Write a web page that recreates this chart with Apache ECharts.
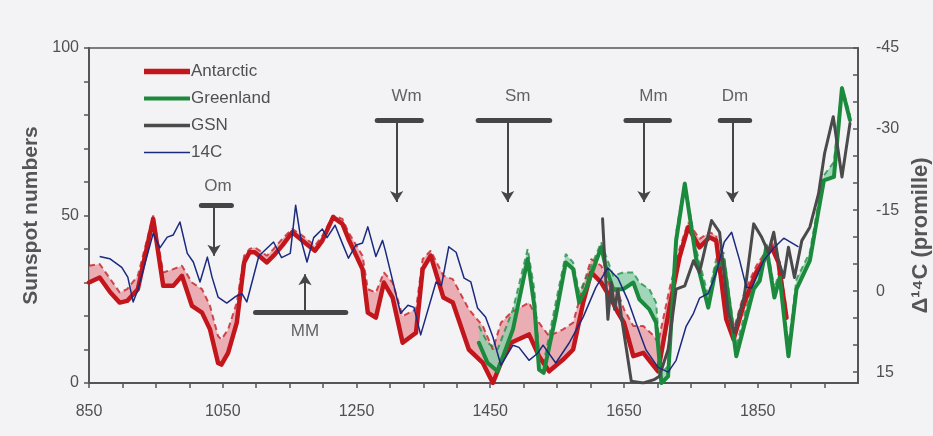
<!DOCTYPE html>
<html>
<head>
<meta charset="utf-8">
<script src="https://cdn.jsdelivr.net/npm/echarts@6/dist/echarts.min.js"></script>
<style>
  html, body { margin: 0; padding: 0; background: #f3f3f6; }
  #chart { width: 933px; height: 436px; }
</style>
</head>
<body>
<div id="chart"></div>
<script>
// Antarctic reconstruction: solid line (lower) and dashed upper edge of the band
const antarcticYears = [850, 866, 882, 896, 907, 923, 946, 961, 976, 989, 1004, 1019, 1031, 1043, 1048, 1058, 1071, 1082, 1090, 1098, 1116, 1126, 1139, 1154, 1169, 1188, 1199, 1215, 1229, 1238, 1259, 1267, 1279, 1291, 1304, 1319, 1339, 1349, 1361, 1380, 1394, 1418, 1439, 1454, 1466, 1481, 1508, 1523, 1538, 1559, 1574, 1589, 1601, 1616, 1631, 1641, 1650, 1664, 1679, 1695, 1701, 1718, 1733, 1746, 1763, 1778, 1788, 1803, 1814, 1830, 1848, 1871, 1881, 1893];
const antarcticLow = [30, 31.5, 27, 24, 24.5, 28, 49, 29, 29, 32, 23, 21, 16, 6, 5.5, 9, 18, 36, 39, 39, 36, 38, 41, 45, 42.5, 39.5, 42.5, 49.5, 47.5, 43, 34, 21, 19.5, 30, 25.5, 12, 15, 34, 38, 25.5, 24, 10, 6, 0, 6, 12, 14.5, 8, 3.5, 7, 10, 24, 33, 30, 25, 21, 18, 8, 9, 5, 3.5, 22.5, 37.5, 46.5, 40.5, 43.5, 42.5, 19, 13, 24, 33, 40.5, 36, 19.5];
const antarcticHigh = [35, 35.5, 31, 27, 28, 32, 50, 33, 34, 35, 30, 28, 23, 14, 13, 16, 24, 38, 40, 40.5, 38, 40, 43, 46, 44, 41, 44, 50, 49, 45, 38, 28, 27, 33, 30, 20, 22, 37, 39.5, 32, 31, 22, 17, 10, 18, 21, 24, 18, 14, 16, 18, 29, 37, 35, 28, 27, 22, 17, 17, 14, 12, 28, 40, 48, 43, 45, 44, 22, 16, 27, 35, 42, 38, 22];

// Greenland reconstruction
const greenlandYears = [1433, 1446, 1461, 1484, 1506, 1516, 1523, 1530, 1548, 1563, 1574, 1583, 1593, 1616, 1623, 1634, 1649, 1664, 1673, 1688, 1698, 1706, 1716, 1728, 1741, 1758, 1776, 1788, 1799, 1818, 1844, 1853, 1863, 1875, 1883, 1896, 1908, 1928, 1941, 1949, 1964, 1976, 1988];
const greenlandLow = [12, 6, 3.5, 16, 37, 23, 4, 3, 20, 36, 34, 24, 28, 40.5, 34.5, 28, 28, 30, 25, 22, 18, 0, 2, 42.5, 59.5, 37, 22.5, 34.5, 36.5, 8, 28, 30.5, 40.5, 25.5, 31.5, 8, 28, 36.5, 51.5, 60.5, 61.5, 88, 78.5];
const greenlandHigh = [17, 12, 10, 22, 40, 28, 8, 6, 24, 38.5, 36, 27, 31, 42, 38, 32, 33, 33, 30, 28, 24, 3, 5, 45, 60, 40, 26, 37, 39, 11, 31, 33, 42, 28, 34, 11, 31, 39, 54, 62, 66, 88.5, 80];

// Group sunspot numbers
const gsnYears = [1618, 1626, 1631, 1636, 1641, 1646, 1653, 1661, 1679, 1695, 1703, 1716, 1728, 1741, 1754, 1763, 1781, 1793, 1806, 1815, 1830, 1844, 1856, 1866, 1874, 1881, 1889, 1896, 1905, 1916, 1928, 1941, 1950, 1963, 1976, 1988];
const gsnValues = [49, 19, 30, 22, 28, 20, 11, 0.5, 0, 1, 2, 10, 28, 29, 36.5, 33, 48.5, 45, 21, 15, 26, 47.5, 43.5, 39, 45, 36.5, 31.5, 40.5, 31.5, 42.5, 46.5, 56.5, 68.5, 79.5, 61.5, 77.5];

// Delta 14C (promille), right axis, inverted
const c14Years = [866, 881, 899, 908, 916, 923, 946, 956, 967, 976, 986, 997, 1006, 1016, 1027, 1034, 1043, 1056, 1069, 1079, 1086, 1104, 1126, 1138, 1151, 1159, 1167, 1176, 1186, 1199, 1206, 1218, 1229, 1238, 1249, 1259, 1267, 1279, 1289, 1293, 1304, 1316, 1327, 1336, 1346, 1369, 1377, 1388, 1399, 1411, 1421, 1431, 1443, 1454, 1466, 1484, 1493, 1508, 1521, 1529, 1548, 1568, 1589, 1608, 1626, 1641, 1656, 1668, 1683, 1701, 1716, 1728, 1743, 1754, 1763, 1776, 1788, 1800, 1811, 1823, 1833, 1841, 1859, 1874, 1889, 1911];
const c14Values = [-6.4, -6, -4.4, -2.6, 2, -0.2, -10.7, -8, -10, -10.4, -12.8, -7, -5.4, -1.7, -6.3, -2.6, 1.1, 2.2, 1, 0.5, 2, -6.5, -9.1, -6.2, -7, -15.9, -9.5, -5.4, -9.9, -11.5, -9.9, -12.2, -8.8, -6.1, -8.5, -8.9, -11.9, -6.4, -9.4, -7.6, -2, 4.1, 2.6, 3, 8.1, -1.7, -1, -8.2, -7.2, -2.4, -1.7, 3.1, 4.8, 8.5, 13.7, 10, 10.4, 12.8, 11.5, 10, 13.3, 9.6, 4.8, -0.7, -4.3, -2.4, 1.7, 5.9, 10.9, 14.1, 15, 12.8, 6.5, 4.1, 1.3, 0.4, -3.3, -9.1, -10.9, -5.7, -0.7, -0.6, -5.7, -8, -9.8, -8.2];

// Solar minima: bar span, arrow year, bar level, arrow tip and label level (sunspot units)
const minimaNames = ["Om", "Wm", "Sm", "Mm", "Dm"];
const minimaBarStart = [1018, 1281, 1432, 1653, 1794];
const minimaBarEnd = [1063, 1347, 1539, 1718, 1838];
const minimaArrowYear = [1037, 1310, 1476, 1680, 1812];
const minimaBarLevel = [53, 78.5, 78.5, 78.5, 78.5];
const minimaArrowTip = [38, 54, 54, 54, 54];
const minimaLabelLevel = [58.6, 85.5, 85.5, 85.5, 85.5];
const minimaLabelYear = [1043, 1325, 1491, 1694, 1816];

// Medieval maximum: bar below, arrow pointing up
const maxName = "MM";
const maxBarStart = 1099;
const maxBarEnd = 1234;
const maxArrowYear = 1173;
const maxBarLevel = 21;
const maxArrowTip = 32.5;
const maxLabelLevel = 15.3;

const zip = (xs, ys) => xs.map((x, i) => [x, ys[i]]);

const FONT = "'Liberation Sans', Arial, sans-serif";
const AXIS_COLOR = "#555";
const TEXT_COLOR = "#505050";
const BG = "#f3f3f6";
const RED = "#c3161c";
const GREEN = "#1c8a3d";
const GRAY = "#4a4a4a";
const NAVY = "#1b2a7e";
const MARK = "#454545";

const markLines = [];
minimaNames.forEach((name, i) => {
  markLines.push([
    { coord: [minimaBarStart[i], minimaBarLevel[i]], symbol: "none", lineStyle: { width: 5, color: MARK, cap: "round", type: "solid" } },
    { coord: [minimaBarEnd[i], minimaBarLevel[i]], symbol: "none" },
  ]);
  markLines.push([
    { coord: [minimaArrowYear[i], minimaBarLevel[i]], symbol: "none", lineStyle: { width: 2, color: MARK, type: "solid" } },
    { coord: [minimaArrowYear[i], minimaArrowTip[i]], symbol: "arrow" },
  ]);
});
markLines.push([
  { coord: [maxBarStart, maxBarLevel], symbol: "none", lineStyle: { width: 5, color: MARK, cap: "round", type: "solid" } },
  { coord: [maxBarEnd, maxBarLevel], symbol: "none" },
]);
markLines.push([
  { coord: [maxArrowYear, maxBarLevel], symbol: "none", lineStyle: { width: 2, color: MARK, type: "solid" } },
  { coord: [maxArrowYear, maxArrowTip], symbol: "arrow" },
]);

const labelData = minimaNames.map((name, i) => ({ name, value: [minimaLabelYear[i], minimaLabelLevel[i]] }));
labelData.push({ name: maxName, value: [maxArrowYear, maxLabelLevel] });

// shaded band between two curves, drawn through the axis scales
function bandSeries(name, years, low, high, fill) {
  return {
    type: "custom",
    name,
    silent: true,
    z: 1,
    data: [[years[0], low[0]]],
    renderItem: (params, api) => {
      const top = years.map((y, i) => api.coord([y, high[i]]));
      const bottom = years.map((y, i) => api.coord([y, low[i]])).reverse();
      return {
        type: "polygon",
        shape: { points: top.concat(bottom) },
        style: { fill },
      };
    },
  };
}

const lineBase = {
  type: "line",
  symbol: "none",
  showSymbol: false,
  silent: true,
  animation: false,
};

const legendIcon = (h) => `path://M0,0H46V${h}H0Z`;

const chart = echarts.init(document.getElementById("chart"));
chart.setOption({
  backgroundColor: BG,
  animation: false,
  textStyle: { fontFamily: FONT },
  grid: {
    left: 89, right: 75, top: 48, bottom: 53,
    outerBoundsMode: "none",
    containLabel: false,
    show: true, borderColor: AXIS_COLOR, borderWidth: 1.5, backgroundColor: "transparent",
  },
  legend: {
    data: [
      { name: "Antarctic", icon: legendIcon(5.5) },
      { name: "Greenland", icon: legendIcon(4) },
      { name: "GSN", icon: legendIcon(3.5) },
      { name: "14C", icon: legendIcon(1.6) },
    ],
    orient: "vertical",
    left: 139,
    top: 58,
    itemWidth: 46,
    itemHeight: 14,
    itemGap: 10,
    symbolKeepAspect: true,
    textStyle: { fontSize: 17, color: TEXT_COLOR, fontFamily: FONT, padding: [0, 0, 0, -4] },
    selectedMode: false,
  },
  xAxis: {
    type: "value",
    min: 850,
    max: 2000,
    interval: 50,
    axisLine: { lineStyle: { color: AXIS_COLOR, width: 2 } },
    axisTick: { length: 5, lineStyle: { color: AXIS_COLOR, width: 1.5 } },
    axisLabel: {
      fontSize: 16, color: TEXT_COLOR, margin: 21, showMaxLabel: false,
      formatter: (v) => ((v - 850) % 200 === 0 ? String(v) : ""),
    },
    splitLine: { show: false },
  },
  yAxis: [
    {
      type: "value",
      min: 0,
      max: 100,
      interval: 10,
      name: "Sunspot numbers",
      nameLocation: "middle",
      nameGap: 32,
      nameTextStyle: { fontSize: 21, fontWeight: "bold", color: "#555" },
      axisLine: { lineStyle: { color: AXIS_COLOR, width: 2 } },
      axisTick: { length: 5, lineStyle: { color: AXIS_COLOR, width: 1.5 } },
      axisLabel: {
        fontSize: 16, color: TEXT_COLOR, margin: 10,
        formatter: (v) => (v % 50 === 0 ? String(v) : ""),
      },
      splitLine: { show: false },
    },
    {
      type: "value",
      position: "right",
      inverse: true,
      min: -45,
      max: 17,
      interval: 5,
      name: "Δ¹⁴C (promille)",
      nameLocation: "middle",
      nameRotate: 90,
      nameGap: 50,
      nameTextStyle: { fontSize: 22, fontWeight: "bold", color: "#555", padding: [0, 40, 0, 0] },
      axisLine: { show: true, lineStyle: { color: AXIS_COLOR, width: 2 } },
      axisTick: {
        inside: true, length: 5, lineStyle: { color: AXIS_COLOR, width: 1.5 },
        customValues: [-45, -40, -35, -30, -25, -20, -15, -10, -5, 0, 5, 10, 15],
      },
      axisLabel: {
        fontSize: 16, color: TEXT_COLOR, margin: 18,
        customValues: [-45, -30, -15, 0, 15],
      },
      splitLine: { show: false },
    },
  ],
  series: [
    bandSeries("antBand", antarcticYears, antarcticLow, antarcticHigh, "rgba(232, 150, 158, 0.75)"),
    bandSeries("grnBand", greenlandYears, greenlandLow, greenlandHigh, "rgba(140, 208, 170, 0.8)"),
    {
      ...lineBase, name: "antUpper", z: 2,
      data: zip(antarcticYears, antarcticHigh),
      lineStyle: { color: RED, width: 2, type: [6, 4], opacity: 0.75 },
    },
    {
      ...lineBase, name: "grnUpper", z: 2,
      data: zip(greenlandYears, greenlandHigh),
      lineStyle: { color: GREEN, width: 2, type: [6, 4], opacity: 0.75 },
    },
    {
      ...lineBase, name: "Antarctic", z: 3,
      data: zip(antarcticYears, antarcticLow),
      itemStyle: { color: RED },
      lineStyle: { color: RED, width: 4.5, join: "round", cap: "round" },
    },
    {
      ...lineBase, name: "Greenland", z: 4,
      data: zip(greenlandYears, greenlandLow),
      itemStyle: { color: GREEN },
      lineStyle: { color: GREEN, width: 4, join: "round", cap: "round" },
    },
    {
      ...lineBase, name: "GSN", z: 5,
      data: zip(gsnYears, gsnValues),
      itemStyle: { color: GRAY },
      lineStyle: { color: GRAY, width: 3, join: "round", cap: "round" },
    },
    {
      ...lineBase, name: "14C", z: 6, yAxisIndex: 1,
      data: zip(c14Years, c14Values),
      itemStyle: { color: NAVY },
      lineStyle: { color: NAVY, width: 1.5, join: "round" },
    },
    {
      type: "scatter",
      name: "events",
      silent: true,
      symbol: "circle",
      symbolSize: 1,
      itemStyle: { color: BG },
      data: labelData,
      label: {
        show: true, position: "top", distance: -9, formatter: "{b}",
        fontSize: 17, color: "#3c3c3c", fontFamily: FONT,
        textBorderWidth: 0, textBorderColor: "transparent",
      },
      markLine: {
        silent: true,
        animation: false,
        symbolSize: [10, 11],
        lineStyle: { type: "solid", color: MARK },
        label: { show: false },
        emphasis: { disabled: true },
        data: markLines,
      },
    },
  ],
});
</script>
</body>
</html>
